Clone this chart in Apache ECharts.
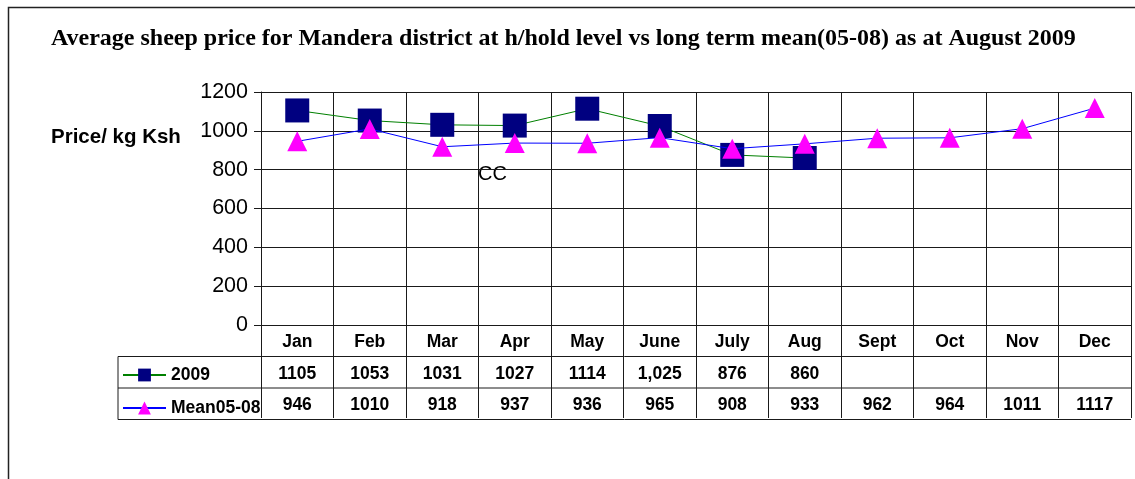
<!DOCTYPE html>
<html><head><meta charset="utf-8">
<script src="https://cdn.jsdelivr.net/npm/echarts@6/dist/echarts.min.js"></script>
<style>html,body{margin:0;padding:0;background:#fff}#c{width:1135px;height:479px}</style>
</head><body><div id="c"></div>
<script>
const categories = ['Jan','Feb','Mar','Apr','May','June','July','Aug','Sept','Oct','Nov','Dec'];
const values2009 = [1105,1053,1031,1027,1114,1025,876,860];
const valuesMean = [946,1010,918,937,936,965,908,933,962,964,1011,1117];
const table2009Text = ['1105','1053','1031','1027','1114','1,025','876','860','','','',''];
const tableMeanText = ['946','1010','918','937','936','965','908','933','962','964','1011','1117'];
const yTicks = {min:0, max:1200, interval:200};

const G = {left:261, top:92, right:4, bottom:154};
const W = 1135, H = 479;
const gx0 = G.left, gx1 = W - G.right, gy1 = H - G.bottom;
const rowH = 31.5;
const tableLeft = 118;
const sans = 'Liberation Sans, Arial, sans-serif';

const chart = echarts.init(document.getElementById('c'), null, {renderer:'canvas'});
const lineCol = '#1a1a1a';
const tableAxis = (data, off) => ({
  type:'category', data:data, position:'bottom', offset:off, gridIndex:0,
  axisLine:{show:false}, axisTick:{show:false}, splitLine:{show:false},
  axisLabel:{color:'#000', fontFamily:sans, fontWeight:'bold', fontSize:17.5, margin:8.5, interval:0}
});
chart.setOption({
  animation:false,
  backgroundColor:'#fff',
  title:{text:'Average sheep price for Mandera district at h/hold level vs long term mean(05-08) as at August 2009',
    left:51, top:27, padding:0,
    textStyle:{fontFamily:'Liberation Serif, Times New Roman, serif', fontWeight:'bold', fontSize:24, color:'#000'}},
  legend:{data:['2009','Mean05-08'], orient:'vertical', left:122, top:366, padding:0,
    itemWidth:43, itemHeight:16, itemGap:15,
    textStyle:{fontFamily:sans, fontWeight:'bold', fontSize:17.5, color:'#000'}},
  grid:{left:G.left, top:G.top, right:G.right, bottom:G.bottom, containLabel:false},
  xAxis:[{
    type:'category', data:categories, boundaryGap:true, position:'bottom',
    axisLine:{show:true, lineStyle:{color:lineCol, width:1}},
    axisTick:{show:true, length:93, interval:0, lineStyle:{color:lineCol, width:1}},
    splitLine:{show:true, interval:0, lineStyle:{color:lineCol, width:1}},
    axisLabel:{color:'#000', fontFamily:sans, fontWeight:'bold', fontSize:17.5, margin:8.5, interval:0}
  }, tableAxis(table2009Text, rowH), tableAxis(tableMeanText, rowH*2)],
  yAxis:{type:'value', min:yTicks.min, max:yTicks.max, interval:yTicks.interval,
    axisLine:{show:true, lineStyle:{color:lineCol, width:1}},
    axisTick:{show:true, length:7, lineStyle:{color:lineCol}},
    splitLine:{show:true, lineStyle:{color:lineCol, width:1}},
    axisLabel:{color:'#000', fontFamily:sans, fontSize:21.5, margin:13, formatter:v => String(v)}},
  series:[
    {name:'2009', type:'line', data:values2009, symbol:'rect', symbolSize:24,
      lineStyle:{color:'#008000', width:1}, itemStyle:{color:'#000080'}, z:3},
    {name:'Mean05-08', type:'line', data:valuesMean, symbol:'triangle', symbolSize:[20,20],
      lineStyle:{color:'#0000ff', width:1}, itemStyle:{color:'#ff00ff'}, z:4}
  ],
  graphic:[
    {type:'rect', shape:{x:8.5, y:7.5, width:1200, height:600}, style:{fill:null, stroke:'#222', lineWidth:1.5}, silent:true, z:-1},
    {type:'line', shape:{x1:tableLeft, y1:gy1+rowH, x2:gx1, y2:gy1+rowH}, style:{stroke:lineCol, lineWidth:1}},
    {type:'line', shape:{x1:tableLeft, y1:gy1+rowH*2, x2:gx1, y2:gy1+rowH*2}, style:{stroke:lineCol, lineWidth:1}},
    {type:'line', shape:{x1:tableLeft, y1:gy1+rowH*3, x2:gx1, y2:gy1+rowH*3}, style:{stroke:lineCol, lineWidth:1}},
    {type:'line', shape:{x1:tableLeft, y1:gy1+rowH, x2:tableLeft, y2:gy1+rowH*3}, style:{stroke:lineCol, lineWidth:1}},
    {type:'text', left:51, top:127, style:{text:'Price/ kg Ksh', font:'bold 20.5px '+sans, fill:'#000'}},
    {type:'text', left:478, top:164, style:{text:'CC', font:'20px '+sans, fill:'#000'}}
  ]
});
</script></body></html>
